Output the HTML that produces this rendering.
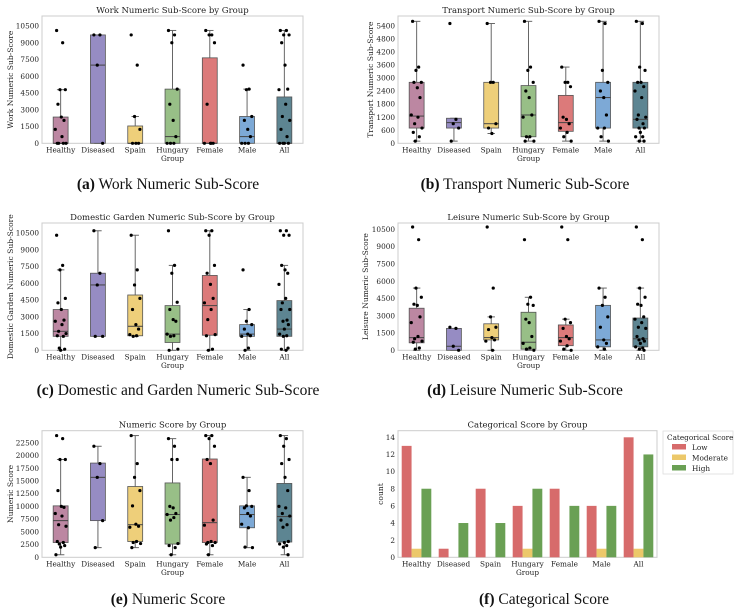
<!DOCTYPE html>
<html><head><meta charset="utf-8"><style>
body{margin:0;background:#fff;width:739px;height:613px;overflow:hidden}
svg{display:block}
.tk{font-family:"DejaVu Serif",serif;font-size:7.3px;fill:#222}
.ti{font-family:"DejaVu Serif",serif;font-size:8.5px;fill:#222}
.yt{font-family:"DejaVu Serif",serif;font-size:7.6px;fill:#222}
.cap{font-family:"Liberation Serif",serif;font-size:15.5px;fill:#111}
</style></head><body>
<svg id="fig" width="739" height="613" viewBox="0 0 739 613" xmlns="http://www.w3.org/2000/svg"></svg>
<script>
const groups = ["Healthy","Diseased","Spain","Hungary\nGroup","Female","Male","All"];
const groupColors = ["#b57a98","#8b80bd","#ecca6c","#8db87a","#d86b6b","#6fa0d2","#4b7886"];

// Work
const workQ1 = [0,0,0,0,0,0,0];
const workMed = [0,7000,0,600,0,600,0];
const workQ3 = [2350,9700,1550,4850,7650,2400,4150];
const workLo = [0,0,0,0,0,0,0];
const workHi = [4800,9700,2400,10100,10100,4850,10100];
const workPts = [
 [10100,9000,4800,4800,3500,2350,2050,1250,600,0,0,0,0],
 [9700,9700,7000,0],
 [9700,7000,2400,1250,0,0,0],
 [10100,9700,9000,4850,3500,2050,600,0,0,0],
 [10100,9700,9700,9000,3500,0,0,0,0],
 [7000,4850,4800,2400,2050,1250,600,0,0,0],
 [10100,10100,9700,9700,9000,7000,4850,4800,3500,2400,2050,1250,600,0,0,0,0]];
// Transport
const trQ1 = [700,700,700,300,550,700,700];
const trMed = [1250,950,900,1300,950,2100,1100];
const trQ3 = [2800,1150,2800,2650,2200,2800,2800];
const trLo = [100,100,450,100,100,100,100];
const trHi = [5600,1150,5500,5600,3500,5600,5600];
const trPts = [
 [5600,3500,3350,2800,2800,2550,2100,1300,1200,900,700,500,300,100],
 [5500,1100,900,700,100],
 [5500,2800,2800,900,700,450],
 [5600,3500,3350,2800,2400,2100,1300,1200,300,300,100,100],
 [3500,2800,2800,2600,1200,1100,900,700,500,300,100],
 [5600,5500,3350,2800,2400,2100,1300,700,700,300,100],
 [5600,5500,3500,3350,2800,2800,2600,2400,2100,1300,1200,1100,900,700,700,500,300,300,100,100]];
// Domestic garden
const dgQ1 = [1250,1250,1300,700,1350,1250,1250];
const dgMed = [1700,5850,2150,1450,4000,1450,1900];
const dgQ3 = [3650,6900,4950,4000,6700,2300,4450];
const dgLo = [0,1250,1250,0,0,0,0];
const dgHi = [7200,10700,10300,7600,10700,3650,7600];
const dgPts = [
 [10300,7600,7200,4650,4250,3650,2700,2600,2300,1700,1500,1300,1250,200,100,0],
 [10700,6900,5850,1250,1250],
 [10300,7200,5850,4650,3650,2300,1900,1400,1300,1250],
 [10700,7600,6900,4300,3650,2750,2600,1450,1300,1250,100,0],
 [10700,10700,10300,7600,6900,5900,4650,4250,3650,2750,1400,1300,100,0],
 [7200,3650,2600,2300,1900,1450,1300,1250,200,0],
 [10700,10700,10300,10300,7600,7200,6900,5900,4650,4250,3650,3650,2700,2600,2300,1900,1450,1300,1250,200,100,0]];
// Leisure
const leQ1 = [650,0,900,100,400,300,300];
const leMed = [1100,350,1100,700,1100,900,1000];
const leQ3 = [3650,1900,2300,3300,2200,3900,2800];
const leLo = [0,0,0,0,0,0,0];
const leHi = [5400,1900,2900,4600,2700,5400,5400];
const lePts = [
 [10700,9600,5400,4600,4000,3900,2900,2400,1200,1000,800,700,200,100],
 [2000,1900,350,0],
 [10700,5400,2900,2000,1800,1100,900,800,0],
 [9600,4600,4000,3900,2700,2400,1200,600,200,100,0],
 [10700,9600,2700,2400,1900,1200,1000,800,400,100,0],
 [5400,4600,3900,2900,2000,900,600,300,100],
 [10700,9600,5400,4600,4000,3900,2900,2700,2400,2000,1900,1200,1000,900,800,600,300,200,100,0]];
// Numeric
const nuQ1 = [2900,7200,3100,2600,2900,5800,3000];
const nuMed = [7200,15700,6400,8400,6800,8400,8000];
const nuQ3 = [10100,18500,13900,14600,19300,10100,14500];
const nuLo = [500,1900,1900,500,500,1900,500];
const nuHi = [19200,21800,23900,23300,23900,15700,23900];
const nuPts = [
 [23900,23300,19200,19200,13100,10000,9800,8600,8100,6400,6100,3100,2900,2600,2300,2000,500],
 [21800,18400,15700,7200,1900],
 [23900,18400,15700,13100,10100,6500,6100,5900,3100,2900,2700,1900],
 [23300,21800,19200,19200,10000,9700,8600,8400,7800,7300,2700,2300,1900,500],
 [23900,23900,23300,21800,19200,18400,7300,6300,3100,2900,2900,2600,2300,500],
 [15700,13100,10100,10000,9700,8600,8100,6500,5800,2000,1900],
 [23900,23300,21800,19200,18400,15700,13100,10000,9700,8600,8100,7300,6400,5900,3100,2900,2600,2300,2000,500]];
// Categorical
const catLow = [13,1,8,6,8,6,14];
const catModerate = [1,0,0,1,0,1,1];
const catHigh = [8,4,4,8,6,6,12];
const catLegend = ["Low","Moderate","High"];
const catColors = ["#d76b6b","#ecc86a","#6aa054"];

const ticksA = [0,1500,3000,4500,6000,7500,9000,10500];
const ticksB = [0,600,1200,1800,2400,3000,3600,4200,4800,5400];
const ticksE = [0,2500,5000,7500,10000,12500,15000,17500,20000,22500];
const ticksF = [0,2,4,6,8,10,12,14];
const jit = [-0.6,0.3,-0.1,0.7,-0.4,0.1,0.5,-0.8,0.2,-0.3,0.8,-0.5,0.4,-0.2,0.6,0,-0.7,0.35,-0.15,0.55,-0.45,0.25];

const NS="http://www.w3.org/2000/svg";
const fig=document.getElementById('fig');
function mk(tag,attrs,parent,text){const e=document.createElementNS(NS,tag);for(const k in attrs)e.setAttribute(k,attrs[k]);if(text!==undefined)e.textContent=text;(parent||fig).appendChild(e);return e;}

function panel(cfg){
  const g=mk('g',{});
  
  
  const {x0,x1,y0,y1,ymax}=cfg;
  const sx=i=>x0+(i+0.5)*(x1-x0)/7;
  const sy=v=>y1-v/ymax*(y1-y0);
  mk('rect',{x:x0,y:y0,width:x1-x0,height:y1-y0,fill:'#fff',stroke:'#ccc','stroke-width':1},g);
  const t=mk('text',{x:(x0+x1)/2,y:y0-3,'text-anchor':'middle',class:'ti'},g,cfg.title);
  
  
  cfg.ticks.forEach(v=>{
    const tl=mk('text',{x:x0-3,y:sy(v)+2.6,'text-anchor':'end',class:'tk'},g,String(v));
    
    
  });
  const yt=mk('text',{x:0,y:0,'text-anchor':'middle',class:'yt',transform:`translate(${cfg.yx},${(y0+y1)/2}) rotate(-90)`},g,cfg.ylabel);
  
  
  groups.forEach((n,i)=>{
    const parts=n.split('\n');
    parts.forEach((p,k)=>{
      const xl=mk('text',{x:sx(i),y:y1+9+k*8.5,'text-anchor':'middle',class:'tk'},g,p);
      
      
    });
  });
  const bw=(x1-x0)/7*0.4;
  if(cfg.box){
    const [q1,med,q3,lo,hi,pts]=cfg.box;
    groups.forEach((n,i)=>{
      const cx=sx(i);
      const bg=mk('g',{},g);
      
      
      mk('line',{x1:cx,x2:cx,y1:sy(q3[i]),y2:sy(hi[i]),stroke:'#666','stroke-width':1},bg);
      mk('line',{x1:cx,x2:cx,y1:sy(q1[i]),y2:sy(lo[i]),stroke:'#666','stroke-width':1},bg);
      mk('line',{x1:cx-bw/4,x2:cx+bw/4,y1:sy(hi[i]),y2:sy(hi[i]),stroke:'#666','stroke-width':1},bg);
      mk('line',{x1:cx-bw/4,x2:cx+bw/4,y1:sy(lo[i]),y2:sy(lo[i]),stroke:'#666','stroke-width':1},bg);
      mk('rect',{x:cx-bw/2,y:sy(q3[i]),width:bw,height:Math.max(0.5,sy(q1[i])-sy(q3[i])),fill:groupColors[i],'fill-opacity':0.9,stroke:'#555','stroke-width':0.8},bg);
      mk('line',{x1:cx-bw/2,x2:cx+bw/2,y1:sy(med[i]),y2:sy(med[i]),stroke:'#444','stroke-width':1},bg);
      pts[i].forEach((v,k)=>{
        const c=mk('circle',{cx:cx+jit[k%jit.length]*bw*0.45,cy:sy(v),r:1.6,fill:'#000'},bg);
        
        
      });
    });
  } else {
    const series=[catLow,catModerate,catHigh];
    const w=(x1-x0)/7*0.8/3;
    groups.forEach((n,i)=>{
      series.forEach((s,j)=>{
        const xx=sx(i)-1.5*w+j*w;
        const r=mk('rect',{x:xx,y:sy(s[i]),width:w,height:y1-sy(s[i]),fill:catColors[j]},g);
        
        
      });
    });
    const lg=mk('g',{},g);
    
    
    mk('rect',{x:663,y:431,width:70,height:43,fill:'#fff',stroke:'#ddd','stroke-width':0.8},lg);
    mk('text',{x:667,y:440,class:'tk'},lg,'Categorical Score');
    catLegend.forEach((l,j)=>{
      const e=mk('g',{},lg);
      
      
      mk('rect',{x:672,y:444+j*10.5,width:14,height:5.5,fill:catColors[j]},e);
      mk('text',{x:692,y:450+j*10.5,class:'tk'},e,l);
    });
  }
  const cap=mk('text',{x:cfg.capx,y:cfg.capy,'text-anchor':'middle',class:'cap'},g);
  
  
  mk('tspan',{'font-weight':'bold'},cap,cfg.cap[0]);
  mk('tspan',{},cap,' '+cfg.cap[1]);
}

panel({name:'work-panel',x0:42,x1:303,y0:16,y1:143.3,ymax:11395,ticks:ticksA,title:'Work Numeric Sub-Score by Group',ylabel:'Work Numeric Sub-Score',yx:13,box:[workQ1,workMed,workQ3,workLo,workHi,workPts],capx:168,capy:189,cap:['(a)','Work Numeric Sub-Score']});
panel({name:'transport-panel',x0:398,x1:659,y0:16,y1:143.3,ymax:5845,ticks:ticksB,title:'Transport Numeric Sub-Score by Group',ylabel:'Transport Numeric Sub-Score',yx:373,box:[trQ1,trMed,trQ3,trLo,trHi,trPts],capx:525,capy:189,cap:['(b)','Transport Numeric Sub-Score']});
panel({name:'domestic-panel',x0:42,x1:303,y0:223,y1:350.3,ymax:11395,ticks:ticksA,title:'Domestic Garden Numeric Sub-Score by Group',ylabel:'Domestic Garden Numeric Sub-Score',yx:13,box:[dgQ1,dgMed,dgQ3,dgLo,dgHi,dgPts],capx:178,capy:395,cap:['(c)','Domestic and Garden Numeric Sub-Score']});
panel({name:'leisure-panel',x0:398,x1:659,y0:223,y1:350.3,ymax:11046,ticks:ticksA,title:'Leisure Numeric Sub-Score by Group',ylabel:'Leisure Numeric Sub-Score',yx:368,box:[leQ1,leMed,leQ3,leLo,leHi,lePts],capx:525,capy:395,cap:['(d)','Leisure Numeric Sub-Score']});
panel({name:'numeric-panel',x0:42,x1:303,y0:430.7,y1:557.3,ymax:24856,ticks:ticksE,title:'Numeric Score by Group',ylabel:'Numeric Score',yx:13,box:[nuQ1,nuMed,nuQ3,nuLo,nuHi,nuPts],capx:168,capy:604,cap:['(e)','Numeric Score']});
panel({name:'categorical-panel',x0:398,x1:657,y0:430.7,y1:557.3,ymax:14.77,ticks:ticksF,title:'Categorical Score by Group',ylabel:'count',yx:383,box:null,capx:544,capy:604,cap:['(f)','Categorical Score']});
</script>
</body></html>
